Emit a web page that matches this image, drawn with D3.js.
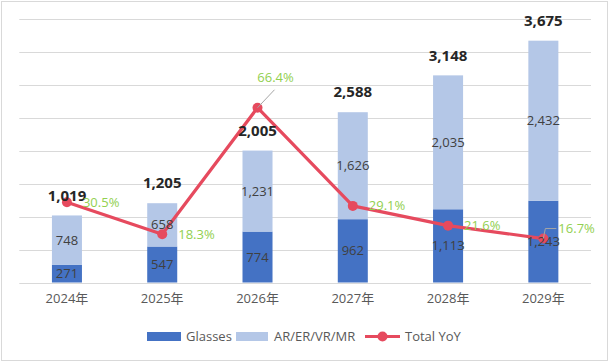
<!DOCTYPE html>
<html>
<head>
<meta charset="utf-8">
<script src="https://cdn.jsdelivr.net/npm/d3@7"></script>
<style>
  body { margin: 0; background: #fff; }
  svg text { font-family: "Open Sans", "Noto Sans CJK SC", sans-serif; }
</style>
</head>
<body>
<svg id="stage" width="610" height="362"></svg>
<script>
// chart data
var years = ["2024年", "2025年", "2026年", "2027年", "2028年", "2029年"];
var glasses = [271, 547, 774, 962, 1113, 1243];
var arvr = [748, 658, 1231, 1626, 2035, 2432];
var yoy = [30.5, 18.3, 66.4, 29.1, 21.6, 16.7];
var legendNames = ["Glasses", "AR/ER/VR/MR", "Total YoY"];

var blue = "#4472c4", light = "#b4c7e7", red = "#e64a5e", green = "#92d050";

var svg = d3.select("#stage");

// outer frame
svg.append("rect")
  .attr("x", 1.5).attr("y", 1.5)
  .attr("width", 606).attr("height", 359)
  .attr("fill", "none").attr("stroke", "#d9d9d9");

var plotLeft = 19.3, plotRight = 591, plotTop = 19.3, plotBottom = 282.5;

var x = d3.scaleBand().domain(years).range([plotLeft, plotRight])
  .paddingInner(0.685).paddingOuter(0.3425);
var y = d3.scaleLinear().domain([0, 4000]).range([plotBottom, plotTop]);
var y2 = d3.scaleLinear().domain([0, 100]).range([plotBottom, plotTop]);

// gridlines
svg.append("g").selectAll("line")
  .data(y.ticks(8))
  .enter().append("line")
  .attr("x1", plotLeft).attr("x2", plotRight)
  .attr("y1", function(d){ return Math.round(y(d)) + 0.5; })
  .attr("y2", function(d){ return Math.round(y(d)) + 0.5; })
  .attr("stroke", "#d9d9d9").attr("stroke-width", 1);

// x axis labels
var xAxis = svg.append("g")
  .attr("transform", "translate(0," + plotBottom + ")")
  .call(d3.axisBottom(x).tickSize(0).tickPadding(11));
xAxis.select(".domain").remove();
xAxis.selectAll("text")
  .style("font-size", "13px")
  .attr("fill", "#595959");

var rows = years.map(function(yr, i){
  return { year: yr, g: glasses[i], a: arvr[i], total: glasses[i] + arvr[i], yoy: yoy[i] };
});

// stacked bars
var bars = svg.append("g");
bars.selectAll(".glass").data(rows).enter().append("rect")
  .attr("x", function(d){ return x(d.year); })
  .attr("width", x.bandwidth())
  .attr("y", function(d){ return y(d.g); })
  .attr("height", function(d){ return y(0) - y(d.g); })
  .attr("fill", blue);
bars.selectAll(".ar").data(rows).enter().append("rect")
  .attr("x", function(d){ return x(d.year); })
  .attr("width", x.bandwidth())
  .attr("y", function(d){ return y(d.total); })
  .attr("height", function(d){ return y(d.g) - y(d.total); })
  .attr("fill", light);

// YoY line
var cx = function(d){ return x(d.year) + x.bandwidth() / 2; };
var line = d3.line()
  .x(cx)
  .y(function(d){ return y2(d.yoy); });
svg.append("path").datum(rows)
  .attr("d", line)
  .attr("fill", "none").attr("stroke", red)
  .attr("stroke-width", 3.2).attr("stroke-linejoin", "round");
svg.append("g").selectAll("circle").data(rows).enter().append("circle")
  .attr("cx", cx)
  .attr("cy", function(d){ return y2(d.yoy); })
  .attr("r", 5).attr("fill", red);

// segment labels
var labels = svg.append("g");
labels.selectAll(".lg").data(rows).enter().append("text")
  .attr("x", cx)
  .attr("y", function(d){ return (y(0) + y(d.g)) / 2; })
  .attr("dy", "0.35em").attr("text-anchor", "middle")
  .style("font-size", "13px").attr("fill", "#404040")
  .text(function(d){ return d3.format(",")(d.g); });
labels.selectAll(".la").data(rows).enter().append("text")
  .attr("x", cx)
  .attr("y", function(d){ return (y(d.g) + y(d.total)) / 2; })
  .attr("dy", "0.35em").attr("text-anchor", "middle")
  .style("font-size", "13px").attr("fill", "#404040")
  .text(function(d){ return d3.format(",")(d.a); });
labels.selectAll(".lt").data(rows).enter().append("text")
  .attr("x", cx)
  .attr("y", function(d){ return y(d.total) - 20; })
  .attr("dy", "0.35em").attr("text-anchor", "middle")
  .style("font-size", "15px").style("font-weight", "bold").attr("fill", "#262626")
  .text(function(d){ return d3.format(",")(d.total); });

// YoY labels (two of them moved out with leader lines)
rows.forEach(function(d, i){
  var px = cx(d), py = y2(d.yoy);
  var tx = px + 16, ty = py, anchor = "start";
  if (i === 2) {
    tx = px + 18; ty = py - 30; anchor = "middle";
    svg.append("line").attr("x1", px).attr("y1", py)
      .attr("x2", px + 17).attr("y2", py - 18)
      .attr("stroke", "#a6a6a6").attr("stroke-width", 1);
  }
  if (i === 5) {
    ty = py - 10; tx = px + 15;
    svg.append("polyline")
      .attr("points", [[px, py], [px + 2, py - 10], [px + 13, py - 10]].map(function(p){ return p.join(","); }).join(" "))
      .attr("fill", "none").attr("stroke", "#a6a6a6").attr("stroke-width", 1);
  }
  svg.append("text")
    .attr("x", tx).attr("y", ty).attr("dy", "0.35em")
    .attr("text-anchor", anchor)
    .style("font-size", "13px").attr("fill", green)
    .text(d3.format(".1f")(d.yoy) + "%");
});

// legend
var legend = svg.append("g").attr("transform", "translate(0,336.5)");
var lx = [147, 236, 365];
legend.append("rect").attr("x", lx[0]).attr("y", -4.5).attr("width", 34).attr("height", 9).attr("fill", blue);
legend.append("rect").attr("x", lx[1]).attr("y", -4.5).attr("width", 32).attr("height", 9).attr("fill", light);
legend.append("line").attr("x1", lx[2]).attr("x2", lx[2] + 35).attr("y1", 0).attr("y2", 0)
  .attr("stroke", red).attr("stroke-width", 3.2);
legend.append("circle").attr("cx", lx[2] + 17.5).attr("cy", 0).attr("r", 5).attr("fill", red);
var textX = [186, 274, 405];
legend.selectAll("text").data(legendNames).enter().append("text")
  .attr("x", function(d, i){ return textX[i]; })
  .attr("y", 0).attr("dy", "0.35em")
  .style("font-size", "13px").attr("fill", "#595959")
  .text(function(d){ return d; });
</script>
</body>
</html>
